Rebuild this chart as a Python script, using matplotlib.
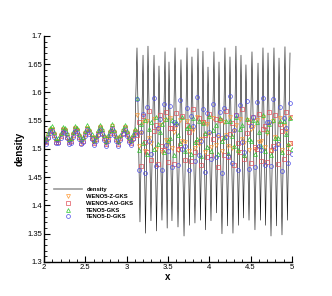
import matplotlib
matplotlib.use('Agg')
import matplotlib.pyplot as plt
from matplotlib.ticker import MultipleLocator, FormatStrFormatter
import numpy as np

plt.rcParams['font.family'] = ['Liberation Sans', 'DejaVu Sans']

# sample grid of the GKS solutions (dx = 0.025 on [2, 5])
x_grid = np.linspace(2.0, 5.0, 121)

# left part (x = 2.0 ... 3.1), smooth entropy waves
teno5d_left = [1.512, 1.509, 1.519, 1.529, 1.531, 1.521, 1.510, 1.510, 1.520, 1.530,
               1.529, 1.519, 1.509, 1.511, 1.521, 1.532, 1.528, 1.518, 1.508, 1.512,
               1.523, 1.533, 1.527, 1.517, 1.507, 1.514, 1.524, 1.534, 1.526, 1.516,
               1.505, 1.515, 1.525, 1.535, 1.525, 1.514, 1.506, 1.516, 1.526, 1.534,
               1.523, 1.513, 1.507, 1.517, 1.527]
wenoao_left = [1.515, 1.512, 1.522, 1.532, 1.534, 1.524, 1.513, 1.513, 1.523, 1.533,
               1.532, 1.522, 1.512, 1.514, 1.524, 1.535, 1.531, 1.521, 1.511, 1.515,
               1.526, 1.536, 1.530, 1.520, 1.510, 1.517, 1.527, 1.537, 1.529, 1.519,
               1.508, 1.518, 1.528, 1.538, 1.528, 1.517, 1.509, 1.519, 1.529, 1.537,
               1.526, 1.516, 1.510, 1.520, 1.530]
wenoz_left = [1.517, 1.514, 1.524, 1.534, 1.536, 1.526, 1.515, 1.515, 1.525, 1.535,
              1.534, 1.524, 1.514, 1.516, 1.526, 1.537, 1.533, 1.523, 1.513, 1.517,
              1.528, 1.538, 1.532, 1.522, 1.512, 1.519, 1.529, 1.539, 1.531, 1.521,
              1.510, 1.520, 1.530, 1.540, 1.530, 1.519, 1.511, 1.521, 1.531, 1.539,
              1.528, 1.518, 1.512, 1.522, 1.532]
teno5_left = [1.521, 1.518, 1.528, 1.538, 1.540, 1.530, 1.519, 1.519, 1.529, 1.539,
              1.538, 1.528, 1.518, 1.520, 1.530, 1.541, 1.537, 1.527, 1.517, 1.521,
              1.532, 1.542, 1.536, 1.526, 1.516, 1.523, 1.533, 1.543, 1.535, 1.525,
              1.514, 1.524, 1.534, 1.544, 1.534, 1.523, 1.515, 1.525, 1.535, 1.543,
              1.532, 1.522, 1.516, 1.526, 1.536]

# right part (x = 3.125 ... 5.0), under-resolved high frequency waves
teno5d_right = [1.588, 1.462, 1.530, 1.562, 1.458, 1.574, 1.515, 1.492, 1.590, 1.470,
                1.538, 1.553, 1.462, 1.580, 1.507, 1.497, 1.576, 1.468, 1.548, 1.545,
                1.472, 1.586, 1.500, 1.505, 1.572, 1.462, 1.558, 1.540, 1.478, 1.592,
                1.490, 1.514, 1.570, 1.460, 1.563, 1.530, 1.482, 1.580, 1.485, 1.524,
                1.566, 1.458, 1.572, 1.522, 1.487, 1.594, 1.476, 1.533, 1.560, 1.462,
                1.578, 1.512, 1.495, 1.585, 1.465, 1.541, 1.556, 1.468, 1.583, 1.505,
                1.498, 1.590, 1.472, 1.547, 1.548, 1.470, 1.588, 1.502, 1.508, 1.575,
                1.461, 1.555, 1.537, 1.475, 1.582, 1.492]
wenoao_right = [1.524, 1.548, 1.470, 1.558, 1.512, 1.494, 1.568, 1.480, 1.531, 1.542,
                1.473, 1.560, 1.506, 1.499, 1.566, 1.477, 1.537, 1.538, 1.474, 1.563,
                1.500, 1.507, 1.558, 1.481, 1.543, 1.530, 1.478, 1.570, 1.494, 1.512,
                1.555, 1.472, 1.548, 1.525, 1.486, 1.562, 1.490, 1.518, 1.553, 1.468,
                1.552, 1.519, 1.490, 1.567, 1.485, 1.526, 1.546, 1.472, 1.560, 1.510,
                1.495, 1.571, 1.482, 1.529, 1.547, 1.476, 1.556, 1.504, 1.500, 1.562,
                1.479, 1.536, 1.541, 1.477, 1.565, 1.498, 1.505, 1.560, 1.474, 1.544,
                1.532, 1.482, 1.566, 1.495, 1.511, 1.557]
teno5_right = [1.590, 1.498, 1.545, 1.510, 1.552, 1.492, 1.535, 1.548, 1.500, 1.556,
               1.508, 1.530, 1.545, 1.494, 1.553, 1.515, 1.520, 1.551, 1.490, 1.548,
               1.525, 1.510, 1.557, 1.496, 1.538, 1.540, 1.492, 1.555, 1.512, 1.518,
               1.550, 1.488, 1.546, 1.528, 1.503, 1.558, 1.497, 1.533, 1.542, 1.491,
               1.554, 1.514, 1.522, 1.549, 1.493, 1.550, 1.523, 1.506, 1.556, 1.498,
               1.536, 1.543, 1.489, 1.553, 1.517, 1.515, 1.551, 1.492, 1.547, 1.530,
               1.505, 1.560, 1.496, 1.531, 1.545, 1.490, 1.552, 1.519, 1.520, 1.550,
               1.494, 1.549, 1.526, 1.508, 1.555, 1.500]
wenoz_right = [1.560, 1.505, 1.528, 1.548, 1.497, 1.550, 1.520, 1.510, 1.553, 1.500,
               1.535, 1.542, 1.495, 1.551, 1.516, 1.508, 1.555, 1.502, 1.530, 1.540,
               1.498, 1.552, 1.514, 1.512, 1.549, 1.496, 1.538, 1.533, 1.501, 1.556,
               1.509, 1.518, 1.547, 1.494, 1.545, 1.527, 1.504, 1.554, 1.507, 1.522,
               1.550, 1.497, 1.548, 1.524, 1.506, 1.557, 1.502, 1.532, 1.543, 1.495,
               1.553, 1.517, 1.511, 1.552, 1.499, 1.536, 1.539, 1.500, 1.551, 1.513,
               1.515, 1.556, 1.503, 1.529, 1.544, 1.496, 1.549, 1.521, 1.509, 1.554,
               1.498, 1.540, 1.531, 1.505, 1.555, 1.510]

# reference density: smooth part, then peaks / troughs of the fine waves
ref_left = [1.514, 1.511, 1.521, 1.531, 1.533, 1.523, 1.512, 1.512, 1.522, 1.532,
            1.531, 1.521, 1.511, 1.513, 1.523, 1.534, 1.530, 1.520, 1.510, 1.514,
            1.525, 1.535, 1.529, 1.519, 1.509, 1.516, 1.526, 1.536, 1.528, 1.518,
            1.507, 1.517, 1.527, 1.537, 1.527, 1.516, 1.508, 1.518, 1.528, 1.536,
            1.525, 1.515, 1.509, 1.519, 1.529]
peak_x = [3.125, 3.198, 3.258, 3.331, 3.391, 3.464, 3.512, 3.585, 3.657, 3.730,
          3.790, 3.863, 3.923, 3.984, 4.056, 4.117, 4.189, 4.250, 4.322, 4.383,
          4.443, 4.516, 4.589, 4.649, 4.710, 4.782, 4.843, 4.915, 4.976]
peak_y = [1.679, 1.666, 1.682, 1.666, 1.647, 1.672, 1.654, 1.679, 1.658, 1.679,
          1.663, 1.677, 1.673, 1.645, 1.672, 1.654, 1.679, 1.663, 1.682, 1.666,
          1.649, 1.672, 1.652, 1.679, 1.670, 1.679, 1.661, 1.681, 1.670]
trough_x = [3.161, 3.228, 3.294, 3.361, 3.427, 3.490, 3.548, 3.621, 3.694, 3.760,
            3.826, 3.893, 3.954, 4.020, 4.087, 4.153, 4.220, 4.286, 4.352, 4.413,
            4.480, 4.552, 4.619, 4.680, 4.746, 4.812, 4.879, 4.945]
trough_y = [1.371, 1.351, 1.373, 1.355, 1.374, 1.360, 1.373, 1.362, 1.346, 1.365,
            1.369, 1.374, 1.357, 1.373, 1.387, 1.350, 1.364, 1.351, 1.365, 1.378,
            1.374, 1.357, 1.374, 1.365, 1.346, 1.364, 1.348, 1.374]

n_left = len(ref_left)
fine_x = np.array(peak_x + trough_x)
fine_y = np.array(peak_y + trough_y)
order = np.argsort(fine_x)
line_x = np.concatenate([x_grid[:n_left], fine_x[order]])
line_y = np.concatenate([ref_left, fine_y[order]])

series = [
    ('WENO5-Z-GKS', wenoz_left + wenoz_right, 'v', '#FF9933'),
    ('WENO5-AO-GKS', wenoao_left + wenoao_right, 's', '#E0505A'),
    ('TENO5-GKS', teno5_left + teno5_right, '^', '#2EC82E'),
    ('TENO5-D-GKS', teno5d_left + teno5d_right, 'o', '#5050E6'),
]

fig = plt.figure(figsize=(3.32, 2.96), dpi=100)
ax = fig.add_axes([0.1325, 0.1149, 0.747, 0.7635])

ax.plot(line_x, line_y, color='#1a1a1a', lw=0.45, label='density')
for name, vals, mk, col in series:
    ax.plot(x_grid, vals, ls='none', marker=mk, ms=2.8, mfc='none',
            mec=col, mew=0.5, label=name)

ax.set_xlim(2, 5)
ax.set_ylim(1.3, 1.7)
ax.xaxis.set_major_locator(MultipleLocator(0.5))
ax.xaxis.set_minor_locator(MultipleLocator(0.1))
ax.yaxis.set_major_locator(MultipleLocator(0.05))
ax.yaxis.set_minor_locator(MultipleLocator(0.01))
ax.xaxis.set_major_formatter(FormatStrFormatter('%g'))
ax.yaxis.set_major_formatter(FormatStrFormatter('%g'))
ax.tick_params(which='both', direction='in', labelsize=5.5, pad=1.5, width=0.8)
ax.tick_params(which='major', length=4)
ax.tick_params(which='minor', length=2, width=0.6)
for s in ['top', 'right']:
    ax.spines[s].set_visible(False)
for s in ['left', 'bottom']:
    ax.spines[s].set_linewidth(1.0)

ax.set_xlabel('x', fontsize=7, fontweight='bold', labelpad=1)
ax.set_ylabel('density', fontsize=7, fontweight='bold', labelpad=2)

leg = ax.legend(loc='upper left', bbox_to_anchor=(0.02, 0.355), frameon=False,
                handlelength=4.7, numpoints=1, labelspacing=0.3,
                handletextpad=0.8, prop={'weight': 'bold', 'size': 4.2})
leg.get_lines()[0].set_color('#999999')
leg.get_lines()[0].set_linewidth(1.2)

fig.savefig('out.png', dpi=100)
